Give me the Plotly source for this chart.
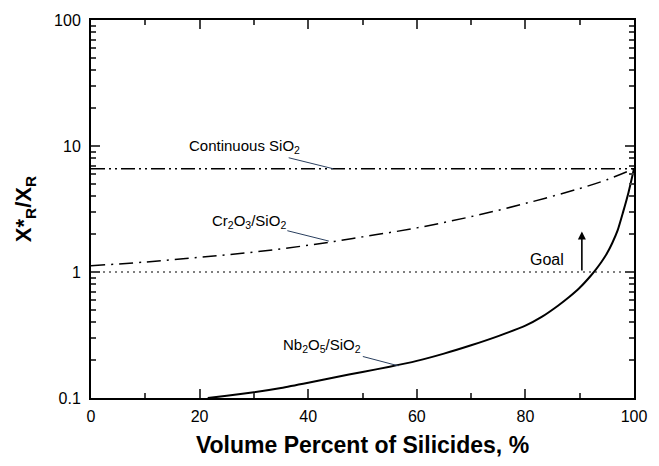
import numpy as np
import plotly.graph_objects as go

# Data
cont_x = [0, 100]
cont_y = [6.6, 6.6]

cr_x = [0, 10, 20, 30, 40, 50, 60, 70, 80, 90, 95, 100]
cr_y = [1.12, 1.2, 1.31, 1.44, 1.63, 1.9, 2.24, 2.75, 3.5, 4.6, 5.4, 6.6]

nb_x = [21.5, 25, 30, 35, 40, 45, 50, 55, 60, 65, 70, 75, 80, 83, 86, 88, 90, 92,
        93, 94, 95, 96, 97, 98, 99, 100]
nb_y = [0.1, 0.104, 0.111, 0.12, 0.132, 0.146, 0.161, 0.177, 0.197, 0.225, 0.262,
        0.31, 0.375, 0.44, 0.54, 0.63, 0.75, 0.93, 1.05, 1.2, 1.4, 1.7, 2.15, 3.0,
        4.3, 6.6]

goal_x = [0, 100]
goal_y = [1, 1]

xticks = [0, 20, 40, 60, 80, 100]
yticks = [0.1, 1, 10, 100]
yticktext = ["0.1", "1", "10", "100"]

FONT = "Arial, Liberation Sans, Helvetica, sans-serif"

fig = go.Figure()
fig.add_trace(go.Scatter(x=cont_x, y=cont_y, mode="lines",
                         line=dict(color="black", width=1.6, dash="14px,4px,2px,4px,2px,4px"),
                         showlegend=False))
fig.add_trace(go.Scatter(x=cr_x, y=cr_y, mode="lines", line_shape="spline",
                         line=dict(color="black", width=1.5, dash="14px,6px,2px,6px"),
                         showlegend=False))
fig.add_trace(go.Scatter(x=nb_x, y=nb_y, mode="lines", line_shape="spline",
                         line=dict(color="black", width=2, smoothing=0.6),
                         showlegend=False))
fig.add_trace(go.Scatter(x=goal_x, y=goal_y, mode="lines",
                         line=dict(color="black", width=1.2, dash="2px,4px"),
                         showlegend=False))

minor_vals = [m * 10.0 ** e for e in (-1, 0, 1) for m in range(2, 10)]

fig.update_layout(
    width=659, height=466,
    margin=dict(l=91, r=23, t=19, b=68),
    paper_bgcolor="white", plot_bgcolor="white",
    font=dict(family=FONT, color="black", size=16),
    xaxis=dict(range=[0, 100], tickvals=xticks, ticks="inside", ticklen=9, tickwidth=1.5,
               showline=True, linewidth=2, linecolor="black", mirror="allticks",
               showgrid=False, zeroline=False, tickfont=dict(size=16), ticklabelstandoff=3,
               minor=dict(dtick=10, ticks="inside", ticklen=5, tickwidth=1.5, showgrid=False),
               title=dict(text="<b>Volume Percent of Silicides, %</b>", font=dict(size=23), standoff=13)),
    yaxis=dict(type="log", range=[-1, 2], tickvals=yticks, ticktext=yticktext,
               ticks="inside", ticklen=9, tickwidth=1.5,
               showline=True, linewidth=2, linecolor="black", mirror="allticks",
               showgrid=False, zeroline=False, tickfont=dict(size=16), ticklabelstandoff=5,
               minor=dict(tickvals=minor_vals, ticks="inside", ticklen=5, tickwidth=1.5, showgrid=False),
               title=dict(text="<b>X*<sub>R</sub>/X<sub>R</sub></b>", font=dict(size=22), standoff=16)),
)

ann_font = dict(family=FONT, size=15, color="black")
fig.add_annotation(x=44.6, y=np.log10(6.6), text="Continuous SiO<sub>2</sub>",
                   showarrow=True, arrowhead=0, arrowwidth=1, ax=-89, ay=-22, font=ann_font, standoff=0)
fig.add_annotation(x=43.8, y=np.log10(1.76), text="Cr<sub>2</sub>O<sub>3</sub>/SiO<sub>2</sub>",
                   showarrow=True, arrowhead=0, arrowwidth=1, ax=-80, ay=-20, font=ann_font, standoff=0)
fig.add_annotation(x=56.6, y=np.log10(0.18), text="Nb<sub>2</sub>O<sub>5</sub>/SiO<sub>2</sub>",
                   showarrow=True, arrowhead=0, arrowwidth=1, ax=-76, ay=-20, font=ann_font, standoff=0)
fig.add_annotation(x=90.4, y=np.log10(2.1), ax=90.4, ay=0, axref="x", ayref="y", text="",
                   showarrow=True, arrowhead=2, arrowsize=1, arrowwidth=1.6, arrowcolor="black", standoff=0)
fig.add_annotation(x=84, y=np.log10(1.25), text="Goal", showarrow=False,
                   font=dict(family=FONT, size=16, color="black"))

fig.write_html("out.html")
